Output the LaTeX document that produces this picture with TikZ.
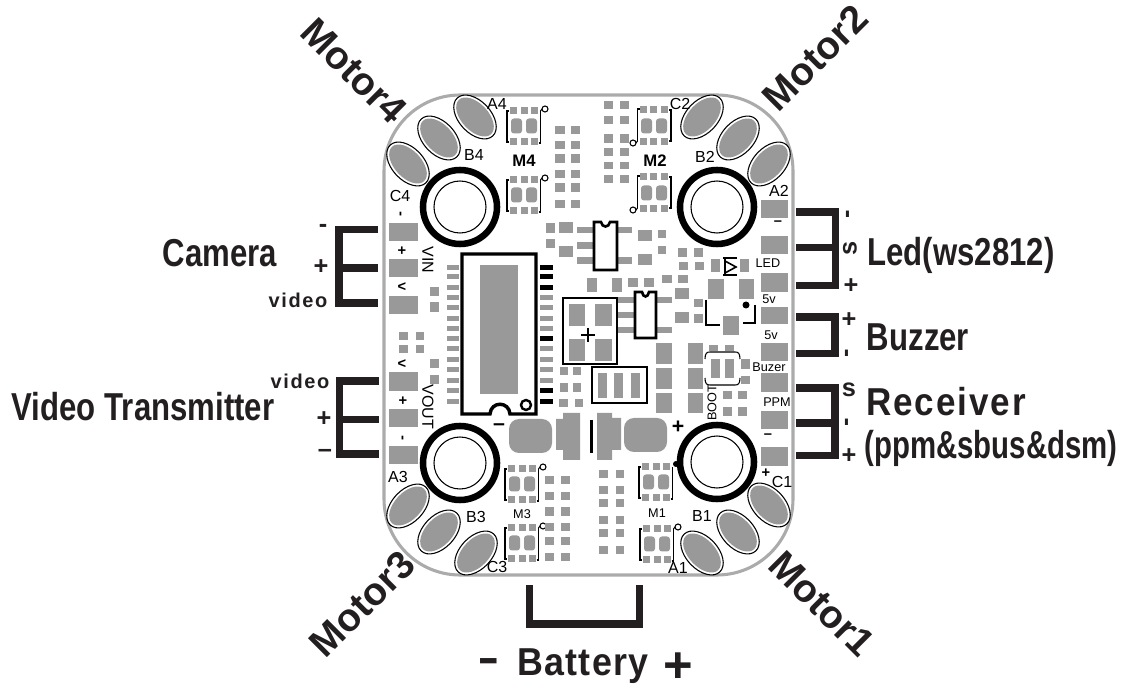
\documentclass[tikz,border=0pt]{standalone}
\usepackage{fontspec}
\setmainfont{Liberation Sans}
\setsansfont{Liberation Sans}
\definecolor{padg}{HTML}{999999}
\definecolor{ink}{HTML}{231F20}
\definecolor{edgeg}{HTML}{ABABAB}
\newcommand{\fs}[1]{\fontsize{#1}{#1}\selectfont}
\newcommand{\track}[1]{\addfontfeatures{LetterSpace=#1}}
\tikzset{
 padbox/.style={fill=padg},
 inkline/.style={draw=ink,line width=5.6pt,line join=miter},
 thin1/.style={draw=black,line width=0.8pt},
 big/.style={font=\bfseries\fs{29.2},text=ink,inner sep=0pt,transform shape},
 sign/.style={font=\bfseries\fs{19},text=ink,inner sep=0pt,transform shape},
 silk/.style={font=\fs{12},text=black,inner sep=0pt,transform shape},
 silks/.style={font=\fs{9.5},text=black,inner sep=0pt,transform shape},
 silkb/.style={font=\bfseries\fs{12.5},text=black,inner sep=0pt,transform shape},
 silkm/.style={font=\bfseries\fs{11},text=black,inner sep=0pt,transform shape},
}
\newcommand{\padoval}[3]{% cx cy angle
 \draw[thin1,fill=white,rotate around={#3:(#1,#2)}] (#1,#2) ellipse (26 and 16);
 \fill[padg,rotate around={#3:(#1,#2)}] (#1,#2) ellipse (23.5 and 13.5);
}
\newcommand{\mount}[2]{%
 \draw[draw=black,line width=4.9pt,fill=white] (#1,#2) circle (37);
 \draw[thin1] (#1,#2) circle (26);
}
\newcommand{\footp}[3]{% cx cy scale
 \begin{scope}[shift={(#1,#2)},xscale=#3,yscale=#3]
 \foreach \u in {-14,-3,7} \foreach \v in {-19,12.5} \fill[padbox] (\u,\v) rectangle ++(7,7);
 \fill[padbox,rounded corners=2.2pt] (-13,-7.5) rectangle (-2,7.5);
 \fill[padbox,rounded corners=2.2pt] (2,-7.5) rectangle (13,7.5);
 \draw[thin1] (-15,-15) -- (-17,-15) -- (-17,16) -- (-15,16);
 \draw[thin1] (14.5,17) -- (16.5,17) -- (16.5,-15);
 \end{scope}
}
\newcommand{\pinmark}[3]{% cx cy scale
 \begin{scope}[shift={(#1,#2)},xscale=#3,yscale=#3]
 \draw[thin1] (16.5,-15) -- (18,-17);
 \draw[thin1,fill=white] (21,-17) circle (3);
 \end{scope}
}
\begin{document}
\begin{tikzpicture}[x=0.75pt,y=-0.75pt]
\useasboundingbox (0,0) rectangle (1136,691);
% board
\draw[draw=edgeg,line width=2.3pt,fill=white,rounded corners=57pt] (384,95) rectangle (793,575);
% ovals
\padoval{475}{117}{-47}\padoval{439}{138}{-47}\padoval{408}{164}{-47}
\padoval{702}{117}{47}\padoval{738}{138}{47}\padoval{769}{164}{47}
\padoval{408}{506}{47}\padoval{439}{532}{47}\padoval{476}{553}{47}
\padoval{769}{505}{-47}\padoval{738}{532}{-47}\padoval{702}{553}{-47}
% side pads
\foreach \b/\c in {223/241,259/277,296/314,372/391,409/427,446/464}
  \fill[padbox] (389,\b) rectangle (418,\c);
\foreach \b/\c in {200/218,236/254,273/292,307/324,343/361,373/392,411/429,447/466}
  \fill[padbox] (761,\b) rectangle (788,\c);
% MOSFET footprints
\footp{524}{126}{1}\pinmark{524}{126}{1}
\footp{524}{195}{1}\pinmark{524}{195}{1}
\footp{654}{126}{-1}\pinmark{654}{126}{-1}
\footp{654}{193}{-1}\pinmark{654}{193}{-1}
\footp{522}{484}{1}\pinmark{522}{484}{1}
\footp{522}{543}{1}\pinmark{522}{543}{1}
\footp{656}{482}{1}
\footp{657}{544}{1}\pinmark{657}{544}{1}
% small pad grids
\foreach \b/\c in {126/134,141/149,154/163,170/178,183/192,200/208}
  {\fill[padbox] (555,\b) rectangle (565,\c);\fill[padbox] (571,\b) rectangle (580,\c);}
\foreach \b/\c in {101/109,116/124,134/143,148/156,162/169,175/183}
  {\fill[padbox] (604,\b) rectangle (613,\c);\fill[padbox] (620,\b) rectangle (629,\c);}
\foreach \b/\c in {476/484,492/500,507/516,523/531,537/545,553/561}
  {\fill[padbox] (545,\b) rectangle (554,\c);\fill[padbox] (561,\b) rectangle (570,\c);}
\foreach \b/\c in {470/478,486/494,499/507,516/524,529/537,546/554}
  {\fill[padbox] (599,\b) rectangle (608,\c);\fill[padbox] (616,\b) rectangle (624,\c);}
% assorted pads
\foreach \a/\b/\c/\d in {
 546/223/555/233,559/222/573/233,546/239/555/248,559/246/573/257,
 577/227/593/233,577/242/593/249,577/257/593/264,617/227/632/233,617/257/632/264,
 638/230/652/241,658/230/666/238,638/254/652/265,658/246/666/254,
 678/248/687/257,694/248/703/257,679/262/688/270,695/262/704/270,711/259/720/272,740/259/749/272,
 587/278/597/292,612/278/622/292,628/278/638/287,644/278/654/287,662/275/672/283,678/275/688/283,
 675/288/689/299,694/299/703/307,675/312/689/323,694/314/703/323,
 708/279/724/299,739/279/754/299,723/316/739/335,
 618/297/635/303,618/312/635/318,618/327/635/333,656/297/672/303,656/327/672/333,
 569/304/585/326,569/339/585/361,595/304/612/326,595/339/612/361,
 598/373/607/398,614/373/623/398,631/373/640/398,
 560/367/568/375,573/367/581/375,560/383/568/392,573/383/581/392,559/399/568/407,575/399/583/407,
 656/343/672/364,656/368/672/389,656/393/672/413,688/343/703/364,688/368/703/389,688/393/703/413,
 711/359/720/378,725/359/734/378,709/345/718/351,725/345/734/351,
 741/359/750/369,741/376/750/384,723/391/732/399,738/391/747/399,723/407/732/416,738/407/747/416,
 430/287/439/296,430/302/439/312,430/359/439/368,430/375/439/384,
 399/332/408/340,416/332/424/340,399/345/408/353,416/345/424/353}
  \fill[padbox] (\a,\b) rectangle (\c,\d);
% battery pads
\fill[padbox,rounded corners=7.5pt] (509,419) rectangle (552,453);
\fill[padbox,rounded corners=7.5pt] (624,418) rectangle (667,452);
\fill[padbox] (556,419) -- (563,419) -- (563,413) -- (580,413) -- (580,460) -- (563,460) -- (563,450) -- (556,450) -- cycle;
\fill[padbox] (621,418) -- (612,418) -- (612,413) -- (597,413) -- (597,460) -- (612,460) -- (612,450) -- (621,450) -- cycle;
\draw[draw=black,line width=2.4pt] (591.5,420) -- (591.5,453);
% main IC
\foreach \y in {268,277,288,298,308,319,329,339,349,360,370,381,391,402}
  \fill[padbox] (447,\y-2.5) rectangle (459,\y+2.5);
\foreach \y in {298,308,319,329,349,360,370,381}
  \fill[padbox] (540,\y-2.5) rectangle (553,\y+2.5);
\foreach \y in {268,277,288,339,391,402}
  \fill[black] (540,\y-2.5) rectangle (553,\y+2.5);
\fill[padbox] (480,265) rectangle (518,394);
\draw[draw=black,line width=2.6pt] (462,254) -- (536,254) -- (536,414) -- (510,414) .. controls (509,401) and (491,401) .. (490,414) -- (462,414) -- cycle;
\draw[draw=black,line width=1.8pt] (526,405) circle (5);
% small ICs
\draw[draw=black,line width=2pt] (594,222) -- (601,222) .. controls (602,228) and (609,228) .. (610,222) -- (617,222) -- (617,270) -- (594,270) -- cycle;
\draw[draw=black,line width=2pt] (635,292) -- (642,292) .. controls (643,298) and (648,298) .. (649,292) -- (656,292) -- (656,338) -- (635,338) -- cycle;
% square and bar box
\draw[draw=black,line width=2.2pt] (563,298) rectangle (617,364);
\draw[draw=black,line width=0.8pt] (581,335) -- (595,335) (588,328) -- (588,342);
\draw[draw=black,line width=2.2pt] (592,367) rectangle (647,403);
% diode
\draw[draw=black,line width=1.2pt] (723,258) -- (737,258) (723,275) -- (737,275);
\draw[draw=black,line width=1.2pt] (725,258) -- (725,275) (725,261) -- (736,267) -- (725,273);
% L brackets
\draw[draw=black,line width=1.5pt] (706,300) -- (706,325) -- (720,325);
\draw[draw=black,line width=1.5pt] (755,305) -- (755,323) -- (743,323);
\fill[black] (746,305) circle (3.5);
% switch brackets
\draw[thin1] (705,359) .. controls (705,353) and (707,352) .. (710,352) -- (735,352) .. controls (738,352) and (740,353) .. (740,359);
\draw[thin1] (705,378) .. controls (705,384) and (707,385) .. (710,385) -- (735,385) .. controls (738,385) and (740,384) .. (740,378);
% mounting rings
\mount{460}{207}\mount{717}{207}\mount{460}{463}\mount{717}{462}
\fill[black] (676,464) circle (3);
% connection brackets
\draw[inkline] (378,229.5) -- (339,229.5) -- (339,303) -- (378,303) (339,268) -- (378,268);
\draw[inkline] (379,381) -- (339.5,381) -- (339.5,454) -- (379,454) (339.5,419.5) -- (379,419.5);
\draw[inkline] (796,212) -- (835.5,212) -- (835.5,285.5) -- (796,285.5) (835.5,247.5) -- (796,247.5);
\draw[inkline] (796,317) -- (835,317) -- (835,353.5) -- (796,353.5);
\draw[inkline] (796,388) -- (835,388) -- (835,455.5) -- (796,455.5) (835,423) -- (796,423);
\draw[inkline] (529.5,585) -- (529.5,624) -- (639.5,624) -- (639.5,585);
% board text
\node[silk] (tC4) at (400,196) {C4};
\node[silk] (tA4) at (497,104) {A4};
\node[silk] (tB4) at (474,155) {B4};
\node[silkb] (tM4) at (524,161) {M4};
\node[silk] (tC2) at (680,104) {C2};
\node[silk] (tB2) at (705,157) {B2};
\node[silkb] (tM2) at (655,161) {M2};
\node[silk] (tA2) at (779,191) {A2};
\node[silk] (tA3) at (398,477) {A3};
\node[silk] (tB3) at (476,517) {B3};
\node[silk] (tC3) at (497,567) {C3};
\node[silks] (tM3) at (522,514) {M3};
\node[silks] (tM1) at (657,513) {M1};
\node[silk] (tB1) at (702,516) {B1};
\node[silk] (tA1) at (678,568) {A1};
\node[silk] (tC1) at (782,482) {C1};
\node[silk,rotate=-90] (tVIN) at (428,260) {VIN};
\node[silk,rotate=-90] (tVOUT) at (428,407) {VOUT};
\node[silks,rotate=90] (tBOOT) at (712,403) {BOOT};
\node[silks] (tLED) at (768,263) {LED};
\node[silks] (t5a) at (769,299) {5v};
\node[silks] (t5b) at (771,335) {5v};
\node[silks] (tBuz) at (769,367) {Buzer};
\node[silks] (tPPM) at (777,402) {PPM};
\node[silkm,rotate=90] (pa) at (402,214) {-};
\node[silkm] (pb) at (402,251) {+};
\node[silkm] (pc) at (402,287) {<};
\node[silkm] (pd) at (402,364) {<};
\node[silkm] (pe) at (403,401) {+};
\node[silkm,rotate=90] (pf) at (404,438) {-};
\node[silkm] (pg) at (778,223) {–};
\node[silkm] (ph) at (768,436) {–};
\node[silkm] (pi) at (766,473) {+};
\node[silk,font=\bfseries\fs{16}] (pj) at (499,427) {–};
\node[silk,font=\bfseries\fs{16}] (pk) at (678,427) {+};
% outer labels
\node[big,rotate=-45] (m4) at (354,71) {Motor4};
\node[big,rotate=45] (m2) at (815,58) {Motor2};
\node[big,rotate=45] (m3) at (362,604) {Motor3};
\node[big,rotate=-45] (m1) at (822,604) {Motor1};
\node[big,xscale=.8] (cam) at (220,253) {Camera};
\node[big,xscale=.8] (vtx) at (143,407) {Video Transmitter};
\node[big,xscale=.8] (led) at (961,255) {Led(ws2812)};
\node[big,xscale=.8] (buz) at (918,337) {Buzzer};
\node[big,xscale=.9] (rcv) at (946,402) {\track{5.4}Receiver};
\node[big,xscale=.755] (ppm) at (991,448) {(ppm\&sbus\&dsm)};
\node[big,xscale=.92] (bat) at (583,666) {\track{3.5}Battery};
\node[big,font=\bfseries\fs{25},yscale=1.6] (bm) at (489,667) {–};
\node[big,font=\bfseries\fs{38},text height=20pt,text depth=0pt] (bp) at (678.5,669) {+};
\node[sign,font=\bfseries\fs{15}] (va) at (298,300) {\track{8}video};
\node[sign,font=\bfseries\fs{15}] (vb) at (300,381) {\track{8}video};
\node[sign] (la) at (323,228) {-};
\node[sign] (lb) at (321,267) {+};
\node[sign] (lc) at (324,419) {+};
\node[sign] (ld) at (325,453) {–};
\node[sign,rotate=90] (ra) at (850,214) {-};
\node[sign,rotate=90] (rb) at (850,248) {s};
\node[sign] (rc) at (851,286) {+};
\node[sign] (rd) at (849,320) {+};
\node[sign,rotate=90] (re) at (849,353) {-};
\node[sign] (rf) at (849,390) {s};
\node[sign,rotate=90] (rg) at (849,422) {-};
\node[sign] (rh) at (849,456) {+};
\end{tikzpicture}
\end{document}
